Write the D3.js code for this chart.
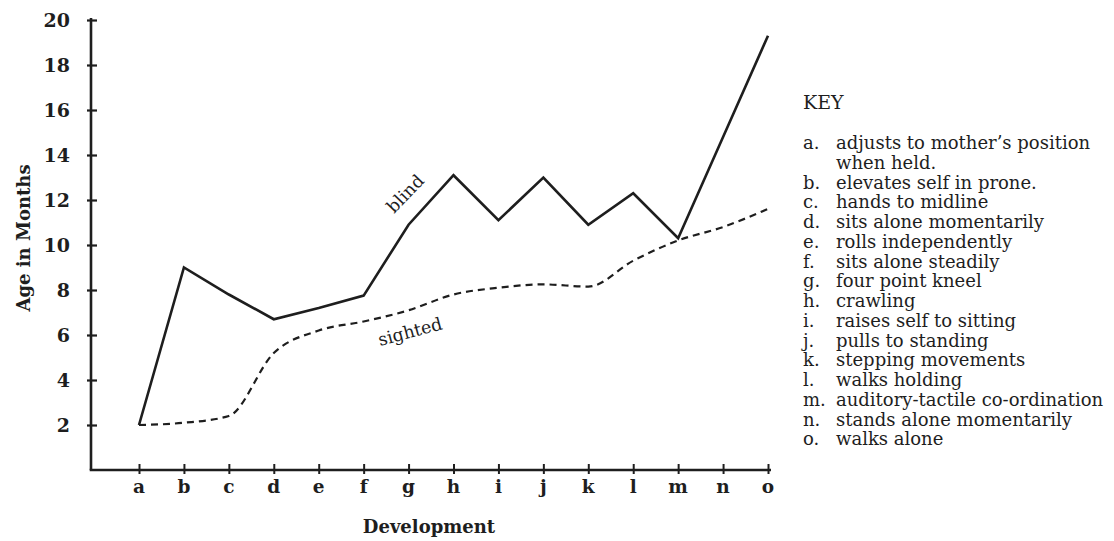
<!DOCTYPE html>
<html>
<head>
<meta charset="utf-8">
<script src="https://cdn.jsdelivr.net/npm/d3@7"></script>
<style>
  html, body { margin: 0; padding: 0; background: #fff; }
  svg { display: block; }
</style>
</head>
<body>
<svg id="chart" width="1114" height="541"></svg>
<script>
// ---- data ----
const categories = ["a","b","c","d","e","f","g","h","i","j","k","l","m","n","o"];
const blindValues = [2.0, 9.0, 7.8, 6.7, 7.2, 7.75, 10.9, 13.1, 11.1, 13.0, 10.9, 12.3, 10.3, 14.8, 19.3];
const sightedValues = [2.0, 2.1, 2.4, 5.2, 6.2, 6.6, 7.1, 7.8, 8.1, 8.25, 8.15, 9.3, 10.2, 10.8, 11.6];
const yTickValues = [2, 4, 6, 8, 10, 12, 14, 16, 18, 20];
const keyLetters = ["a.","b.","c.","d.","e.","f.","g.","h.","i.","j.","k.","l.","m.","n.","o."];
const keyTexts = [
  ["adjusts to mother\u2019s position", "when held."],
  ["elevates self in prone."],
  ["hands to midline"],
  ["sits alone momentarily"],
  ["rolls independently"],
  ["sits alone steadily"],
  ["four point kneel"],
  ["crawling"],
  ["raises self to sitting"],
  ["pulls to standing"],
  ["stepping movements"],
  ["walks holding"],
  ["auditory-tactile co-ordination"],
  ["stands alone momentarily"],
  ["walks alone"]
];
const yTitle = "Age in Months";
const xTitle = "Development";
const keyTitle = "KEY";

// ---- layout ----
const ink = "#1e1e1e";
const serif = "'DejaVu Serif', 'Liberation Serif', serif";
const svg = d3.select("#chart");

const x = d3.scalePoint().domain(categories).range([139, 768]);
const y = d3.scaleLinear().domain([0, 20]).range([470, 20]);
const axisX0 = 91;

// axes lines
svg.append("line").attr("x1", axisX0).attr("x2", axisX0)
  .attr("y1", y(0)).attr("y2", y(20) - 2)
  .attr("stroke", ink).attr("stroke-width", 2.6);
svg.append("line").attr("x1", axisX0 - 1.3).attr("x2", x("o") + 3)
  .attr("y1", y(0)).attr("y2", y(0))
  .attr("stroke", ink).attr("stroke-width", 2.4);

// y ticks
const yAxis = d3.axisRight(y).tickValues(yTickValues).tickSize(6).tickFormat("");
const gy = svg.append("g").attr("transform", `translate(${axisX0},0)`).call(yAxis);
gy.select(".domain").remove();
gy.selectAll(".tick line").attr("stroke", ink).attr("stroke-width", 2.2).attr("x1", -4);
svg.selectAll(".ylab").data(yTickValues).enter().append("text")
  .attr("x", 70).attr("y", d => y(d) + 7)
  .attr("text-anchor", "end")
  .attr("font-family", serif).attr("font-weight", "bold").attr("font-size", 19)
  .attr("fill", ink).text(d => d);

// x ticks
const xAxis = d3.axisBottom(x).tickSize(4).tickFormat("");
const gx = svg.append("g").attr("transform", `translate(0,${y(0)})`).call(xAxis);
gx.select(".domain").remove();
gx.selectAll(".tick line").attr("stroke", ink).attr("stroke-width", 2).attr("y1", -6);
svg.selectAll(".xlab").data(categories).enter().append("text")
  .attr("x", d => x(d)).attr("y", 493)
  .attr("text-anchor", "middle")
  .attr("font-family", serif).attr("font-weight", "bold").attr("font-size", 18.5)
  .attr("fill", ink).text(d => d);

// titles
svg.append("text").attr("x", 429).attr("y", 533).attr("text-anchor", "middle")
  .attr("font-family", serif).attr("font-weight", "bold").attr("font-size", 18)
  .attr("fill", ink).text(xTitle);
svg.append("text").attr("transform", "translate(30,238) rotate(-90)")
  .attr("text-anchor", "middle")
  .attr("font-family", serif).attr("font-weight", "bold").attr("font-size", 18)
  .attr("fill", ink).text(yTitle);

// lines
const blindLine = d3.line().x((d, i) => x(categories[i])).y(d => y(d));
svg.append("path").datum(blindValues).attr("d", blindLine)
  .attr("fill", "none").attr("stroke", ink).attr("stroke-width", 2.6)
  .attr("stroke-linejoin", "miter");
const sightedLine = d3.line().x((d, i) => x(categories[i])).y(d => y(d)).curve(d3.curveMonotoneX);
svg.append("path").datum(sightedValues).attr("d", sightedLine)
  .attr("fill", "none").attr("stroke", ink).attr("stroke-width", 2.2)
  .attr("stroke-dasharray", "7,5");

// line labels
svg.append("text").attr("transform", "translate(394,214) rotate(-46)")
  .attr("font-family", serif).attr("font-size", 17.5).attr("fill", ink).text("blind");
svg.append("text").attr("transform", "translate(380,346) rotate(-15)")
  .attr("font-family", serif).attr("font-size", 17.5).attr("fill", ink).text("sighted");

// key
svg.append("text").attr("x", 803).attr("y", 109)
  .attr("font-family", serif).attr("font-size", 19).attr("fill", ink).text(keyTitle);
let line = 0;
const keyTop = 149, keyStep = 19.75;
keyLetters.forEach((L, i) => {
  svg.append("text").attr("x", 803).attr("y", keyTop + line * keyStep)
    .attr("font-family", serif).attr("font-size", 18).attr("fill", ink).text(L);
  keyTexts[i].forEach(t => {
    svg.append("text").attr("x", 836).attr("y", keyTop + line * keyStep)
      .attr("font-family", serif).attr("font-size", 18).attr("fill", ink).text(t);
    line++;
  });
});
</script>
</body>
</html>
